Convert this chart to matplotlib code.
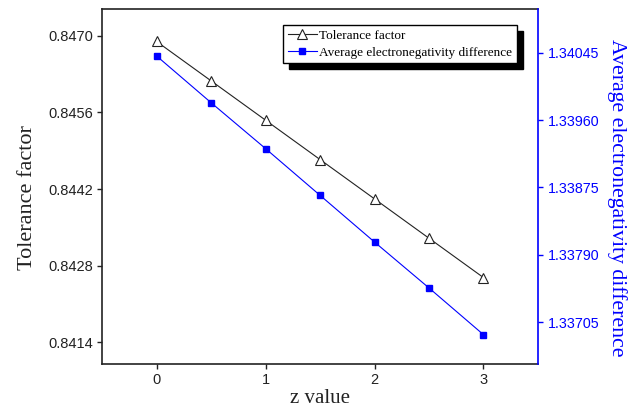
import matplotlib
matplotlib.use('Agg')
import matplotlib.pyplot as plt

# data
z = [0, 0.5, 1, 1.5, 2, 2.5, 3]
tolerance = [0.84690, 0.84618, 0.84546, 0.84474, 0.84402, 0.84330, 0.84258]
electroneg = [1.34041, 1.33982, 1.33924, 1.33865, 1.33806, 1.33748, 1.33689]

left_ticks = [0.8414, 0.8428, 0.8442, 0.8456, 0.8470]
right_ticks = [1.33705, 1.33790, 1.33875, 1.33960, 1.34045]

serif = 'Liberation Serif'
sans = 'Liberation Sans'
blue = '#0000ff'

fig = plt.figure(figsize=(6.44, 4.16), dpi=100)
ax = fig.add_axes([0.1584, 0.125, 0.677, 0.853])
ax2 = ax.twinx()

l1, = ax.plot(z, tolerance, color='#222222', lw=0.8, marker='^', ms=7,
              mfc='white', mec='#222222', mew=0.8, label='Tolerance factor')
l2, = ax2.plot(z, electroneg, color=blue, lw=0.8, marker='s', ms=5,
               mfc=blue, mec=blue, label='Average electronegativity difference')

ax.set_xlim(-0.5, 3.5)
ax.set_ylim(0.84100, 0.84749)
ax2.set_ylim(1.33652, 1.34100)

ax.set_xticks([0, 1, 2, 3])
ax.set_yticks(left_ticks)
ax.set_yticklabels(['{:.4f}'.format(v) for v in left_ticks])
ax2.set_yticks(right_ticks)
ax2.set_yticklabels(['{:.5f}'.format(v) for v in right_ticks])

ax.tick_params(axis='both', direction='out', length=3.8, width=1, labelsize=10.5,
               colors='#222222', pad=2.5)
ax.tick_params(axis='x', pad=3)
ax2.tick_params(axis='y', direction='out', length=3.8, width=1, labelsize=10.3,
                colors=blue, pad=3)
for lab in ax.get_xticklabels() + ax.get_yticklabels() + ax2.get_yticklabels():
    lab.set_family(sans)

for s in ['left', 'top', 'bottom']:
    ax.spines[s].set_linewidth(1.2)
    ax.spines[s].set_color('#222222')
ax2.spines['right'].set_color(blue)
ax2.spines['right'].set_linewidth(1.2)
ax2.spines['left'].set_visible(False)
ax2.spines['top'].set_visible(False)
ax2.spines['bottom'].set_visible(False)
ax.spines['right'].set_visible(False)

ax.set_xlabel('z value', family=serif, fontsize=15, color='#222222', labelpad=1)
ax.set_ylabel('Tolerance factor', family=serif, fontsize=16, color='#222222', labelpad=8)
ax.yaxis.label.set_y(0.47)
ax2.set_ylabel('Average electronegativity difference', family=serif, fontsize=15.7,
               color=blue, rotation=270, labelpad=20)
ax2.yaxis.label.set_y(0.468)

leg = ax2.legend(handles=[l1, l2], loc='upper right', bbox_to_anchor=(0.952, 0.955),
                 prop={'family': serif, 'size': 9.5}, fancybox=False, framealpha=1,
                 edgecolor='black', handlelength=2.2, handletextpad=0.2,
                 borderpad=0.35, labelspacing=0.35, borderaxespad=0,
                 shadow={'ox': 4, 'oy': -4, 'color': 'black', 'alpha': 1})
leg.get_frame().set_linewidth(1.0)

fig.savefig('out.png', dpi=100)
